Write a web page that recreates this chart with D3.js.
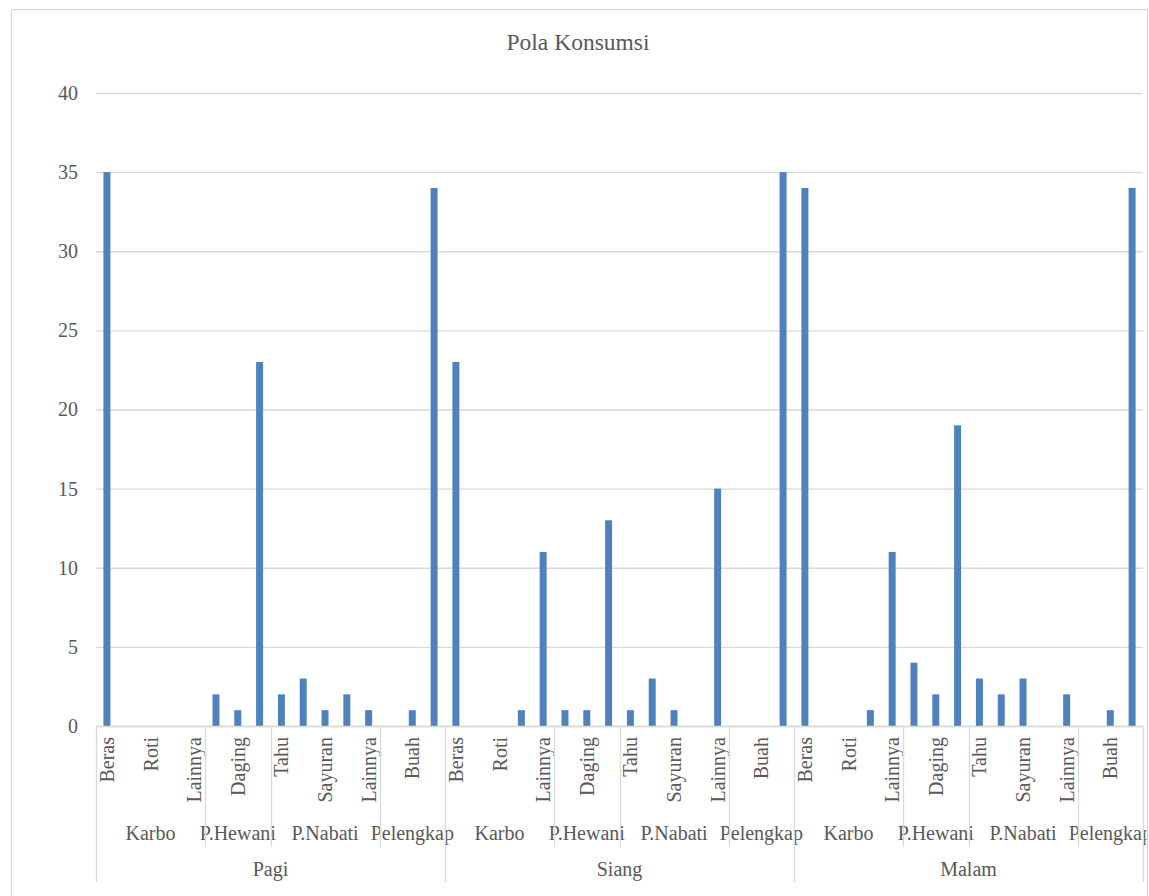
<!DOCTYPE html>
<html>
<head>
<meta charset="utf-8">
<script src="https://cdn.jsdelivr.net/npm/d3@7/dist/d3.min.js"></script>
<style>
  html, body { margin: 0; padding: 0; background: #fff; }
  svg { display: block; }
  text { font-family: "Liberation Serif", "Times New Roman", serif; fill: #595959; }
</style>
</head>
<body>
<script>
// ---- data ----
const chartTitle = "Pola Konsumsi";
const times = ["Pagi", "Siang", "Malam"];
const groupNames = ["Karbo", "P.Hewani", "P.Nabati", "Pelengkap"];
const groupSizes = [5, 3, 5, 3];
const foods = ["Beras", "Jagung", "Roti", "Mie", "Lainnya",
               "Ayam", "Daging", "Ikan",
               "Tahu", "Tempe", "Sayuran", "Kacang", "Lainnya",
               "Susu", "Buah", "Minuman"];
const pagi  = [35, 0, 0, 0, 0, 2, 1, 23, 2, 3, 1, 2, 1, 0, 1, 34];
const siang = [23, 0, 0, 1, 11, 1, 1, 13, 1, 3, 1, 0, 15, 0, 0, 35];
const malam = [34, 0, 0, 1, 11, 4, 2, 19, 3, 2, 3, 0, 2, 0, 1, 34];
const yTicks = [0, 5, 10, 15, 20, 25, 30, 35, 40];

(function () {
// ---- build table ----
const seriesByTime = [pagi, siang, malam];
const rows = [];
times.forEach((t, ti) => {
  let gi = 0, inGroup = 0;
  foods.forEach((f, fi) => {
    rows.push({ key: t + "|" + fi, time: t, group: groupNames[gi], food: f, idx: fi, value: seriesByTime[ti][fi] });
    inGroup++;
    if (inGroup === groupSizes[gi]) { gi++; inGroup = 0; }
  });
});

const W = 1149, H = 896;
const pLeft = 96, pRight = 1143, pTop = 93, pBottom = 726;

const svg = d3.select("body").append("svg").attr("width", W).attr("height", H);

// chart border
svg.append("rect").attr("x", 11.5).attr("y", 9.5).attr("width", 1136).attr("height", 920)
  .attr("fill", "none").attr("stroke", "#d9d9d9").attr("stroke-width", 1.3);

const x = d3.scaleBand().domain(rows.map(d => d.key)).range([pLeft, pRight])
  .paddingInner(0.68).paddingOuter(0.34);
const y = d3.scaleLinear().domain([0, 40]).range([pBottom, pTop]);

// gridlines
svg.append("g").attr("transform", `translate(${pLeft},0)`)
  .call(d3.axisLeft(y).tickValues(yTicks).tickSize(-(pRight - pLeft)).tickFormat(""))
  .call(g => g.select(".domain").remove())
  .call(g => g.selectAll("line").attr("stroke", "#d9d9d9").attr("stroke-width", 1.3));

// y labels
svg.append("g").attr("transform", `translate(${pLeft},0)`)
  .call(d3.axisLeft(y).tickValues(yTicks).tickSize(0).tickPadding(18))
  .call(g => g.select(".domain").remove())
  .call(g => g.selectAll("text").style("font-size", "20px").style("font-family", "'Liberation Serif', serif").attr("fill", "#595959"));

// bars
svg.append("g").selectAll("rect").data(rows).join("rect")
  .attr("x", d => x(d.key)).attr("width", x.bandwidth())
  .attr("y", d => y(d.value)).attr("height", d => y(0) - y(d.value))
  .attr("fill", "#4f81bd");

// x axis baseline
svg.append("line").attr("x1", pLeft).attr("x2", pRight).attr("y1", pBottom + 0.5).attr("y2", pBottom + 0.5)
  .attr("stroke", "#d9d9d9").attr("stroke-width", 1.3);

const step = x.step();
svg.append("clipPath").attr("id", "clipArea")
  .append("rect").attr("x", 12).attr("y", 0).attr("width", 1134.5).attr("height", H);
const axisG = svg.append("g").attr("clip-path", "url(#clipArea)");

// level 1 labels (every other one, like the original)
axisG.append("g").selectAll("text").data(rows.filter(d => d.idx % 2 === 0)).join("text")
  .attr("transform", d => `translate(${x(d.key) + x.bandwidth() / 2},737) rotate(-90)`)
  .attr("text-anchor", "end").attr("dy", "0.35em")
  .style("font-size", "20px")
  .text(d => d.food);

// level 2 groups
const groupSpans = [];
times.forEach((t, ti) => {
  let start = 0;
  groupNames.forEach((g, gi) => {
    const k0 = t + "|" + start, k1 = t + "|" + (start + groupSizes[gi] - 1);
    groupSpans.push({ name: g, first: gi === 0,
      x0: x(k0) - x.paddingInner() * step / 2,
      x1: x(k1) + x.bandwidth() + x.paddingInner() * step / 2 });
    start += groupSizes[gi];
  });
});
axisG.append("g").selectAll("text").data(groupSpans).join("text")
  .attr("x", d => (d.x0 + d.x1) / 2).attr("y", 840)
  .attr("text-anchor", "middle").style("font-size", "20px")
  .text(d => d.name);
axisG.append("g").selectAll("line").data(groupSpans.filter(d => !d.first)).join("line")
  .attr("x1", d => Math.round(d.x0) + 0.5).attr("x2", d => Math.round(d.x0) + 0.5)
  .attr("y1", pBottom).attr("y2", 847)
  .attr("stroke", "#d9d9d9").attr("stroke-width", 1.3);

// level 3 times
const timeSpans = times.map(t => ({
  name: t,
  x0: x(t + "|0") - x.paddingInner() * step / 2,
  x1: x(t + "|" + (foods.length - 1)) + x.bandwidth() + x.paddingInner() * step / 2
}));
axisG.append("g").selectAll("text").data(timeSpans).join("text")
  .attr("x", d => (d.x0 + d.x1) / 2).attr("y", 876)
  .attr("text-anchor", "middle").style("font-size", "20px")
  .text(d => d.name);
const timeEdges = timeSpans.map(d => d.x0).concat([timeSpans[timeSpans.length - 1].x1]);
axisG.append("g").selectAll("line").data(timeEdges).join("line")
  .attr("x1", d => Math.round(d) + 0.5).attr("x2", d => Math.round(d) + 0.5)
  .attr("y1", pBottom).attr("y2", 882)
  .attr("stroke", "#d9d9d9").attr("stroke-width", 1.3);

// title
svg.append("text").attr("x", 578).attr("y", 50).attr("text-anchor", "middle")
  .style("font-size", "23.5px").text(chartTitle);
})();
</script>
</body>
</html>
